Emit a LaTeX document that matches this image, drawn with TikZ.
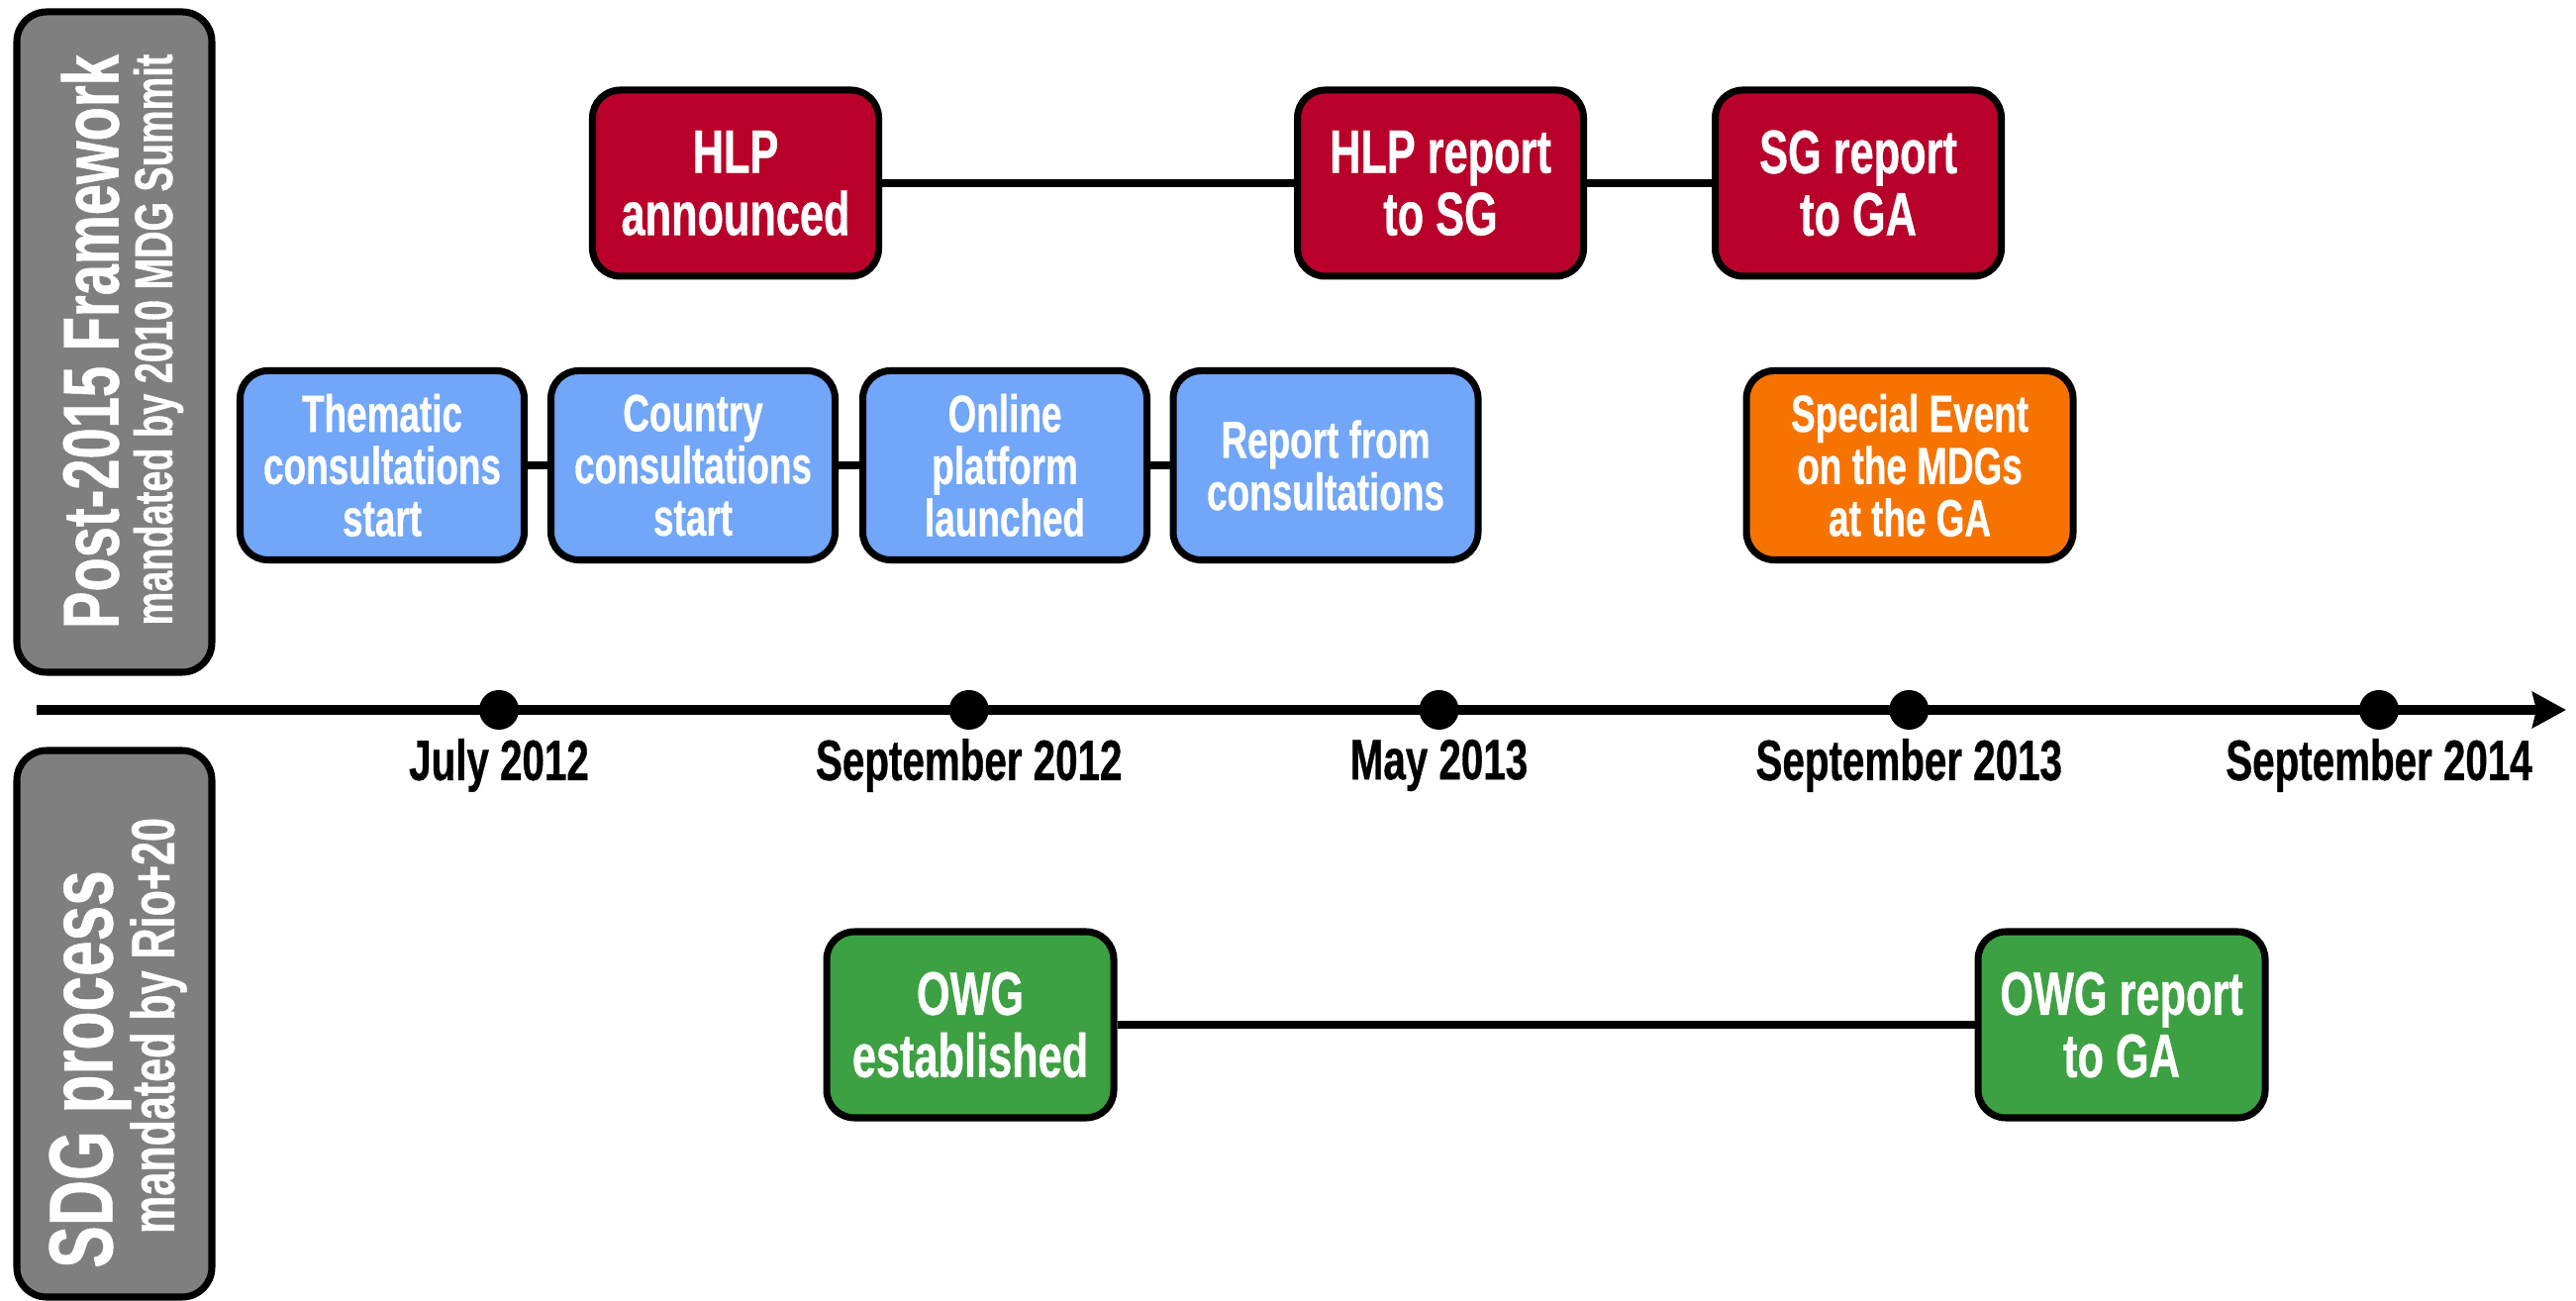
\documentclass[tikz,border=0pt]{standalone}
\usepackage{fontspec}
\newfontfamily\condfont{Liberation Sans}[FakeStretch=0.7, BoldFeatures={FakeBold=0.6}]
\usetikzlibrary{arrows.meta, positioning, calc}

\definecolor{hlpred}{HTML}{B8002A}
\definecolor{consblue}{HTML}{71A6F9}
\definecolor{eventorange}{HTML}{F77300}
\definecolor{owggreen}{HTML}{3DA042}
\definecolor{sidegray}{HTML}{7F7F7F}

\begin{document}
\begin{tikzpicture}[
    event/.style={rectangle, rounded corners=0.28cm, draw, line width=2pt, align=center, text=white, inner sep=0pt},
    bigbox/.style={event, minimum width=2.89cm, minimum height=1.88cm, font=\condfont\bfseries\fontsize{17.6}{17.9}\selectfont},
    smallbox/.style={event, minimum width=2.87cm, minimum height=1.91cm, font=\condfont\bfseries\fontsize{15}{15}\selectfont},
    side/.style={rectangle, rounded corners=0.3cm, draw, line width=2pt, fill=sidegray, minimum width=1.97cm},
    sidetitle/.style={rotate=90, text=white, font=\condfont\bfseries\fontsize{22.8}{24}\selectfont},
    sidesub/.style={rotate=90, text=white, font=\condfont\bfseries\fontsize{15.4}{16}\selectfont},
    link/.style={line width=2.4pt},
    axis/.style={line width=2.8pt, -{Stealth[length=0.34cm, width=0.36cm, inset=0.04cm]}},
    dot/.style={circle, fill=black, minimum size=0.4cm, inner sep=0pt},
    date/.style={font=\condfont\bfseries\fontsize{16.4}{17}\selectfont}
]
    \useasboundingbox (0,0) rectangle (26.02,13.14);

    % Side labels
    \node[side, minimum height=6.67cm] (post) at (1.155,9.685) {};
    \node[sidetitle] (posttitle) at (0.91,9.69) {Post-2015 Framework};
    \node[sidesub] (postsub) at (1.60,9.71) {mandated by 2010 MDG Summit};

    \node[side, minimum height=5.52cm] (sdg) at (1.155,2.80) {};
    \node[sidetitle, font=\condfont\bfseries\fontsize{26}{27}\selectfont] (sdgtitle) at (0.91,2.34) {SDG process};
    \node[sidesub, font=\condfont\bfseries\fontsize{17.5}{18}\selectfont] (sdgsub) at (1.60,2.78) {mandated by Rio+20};

    % --- Timeline ---
    \coordinate (axstart) at (0.37,5.97);
    \coordinate (axend) at (25.92,5.97);
    \draw[axis] (axstart) -- (axend);

    \foreach \i/\d in {0/July 2012, 1/September 2012, 2/May 2013, 3/September 2013, 4/September 2014} {
        \node[dot] (d\i) at ({5.04+4.7475*\i},5.97) {};
        \node[date] (l\i) at ($(d\i)+(0,-0.56)$) {\d};
    }

    % --- HLP track ---
    \node[bigbox, fill=hlpred] (hlp) at (7.43,11.29) {HLP\\announced};
    \node[bigbox, fill=hlpred] (hlpreport) at (14.55,11.29) {HLP report\\to SG};
    \node[bigbox, fill=hlpred] (sgreport) at (18.77,11.29) {SG report\\to GA};
    \draw[link] (hlp) -- (hlpreport);
    \draw[link] (hlpreport) -- (sgreport);

    % --- Consultations ---
    \node[smallbox, fill=consblue] (thematic) at (3.86,8.44) {Thematic\\consultations\\start};
    \node[smallbox, fill=consblue] (country) at (7.00,8.44) {Country\\consultations\\start};
    \node[smallbox, fill=consblue] (online) at (10.15,8.44) {Online\\platform\\launched};
    \node[smallbox, fill=consblue, minimum width=3.08cm] (consreport) at (13.39,8.44) {Report from\\consultations};
    \draw[link] (thematic) -- (country);
    \draw[link] (country) -- (online);
    \draw[link] (online) -- (consreport);

    \node[smallbox, fill=eventorange, minimum width=3.30cm] (special) at (19.29,8.44) {Special Event\\on the MDGs\\at the GA};

    % --- OWG track ---
    \node[bigbox, fill=owggreen, minimum width=2.90cm] (owg) at (9.80,2.79) {OWG\\established};
    \node[bigbox, fill=owggreen, minimum width=2.90cm] (owgreport) at (21.43,2.79) {OWG report\\to GA};
    \draw[link] (owg) -- (owgreport);

\end{tikzpicture}
\end{document}
